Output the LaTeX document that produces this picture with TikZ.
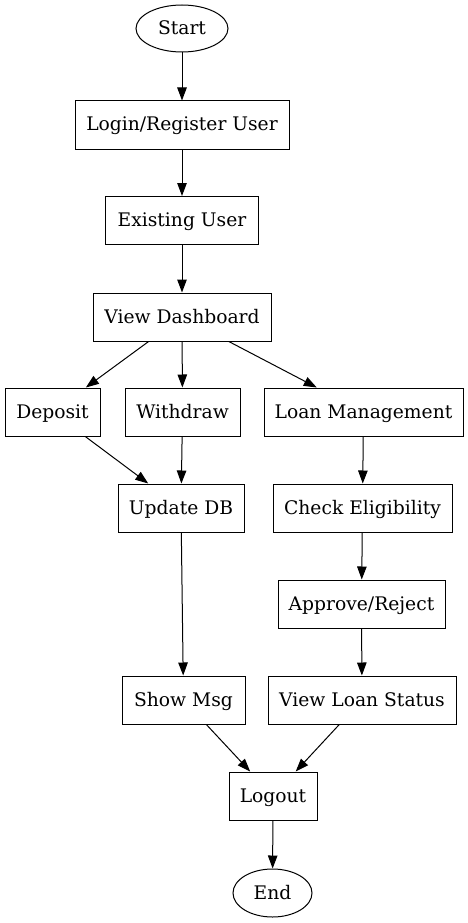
\documentclass[tikz,border=0pt]{standalone}
\usepackage{fontspec}
\setmainfont{DejaVu Serif}
\usetikzlibrary{arrows.meta,shapes.geometric}
\begin{document}
\begin{tikzpicture}[x=1pt,y=-1pt,
  every node/.style={font=\fontsize{18.7}{22}\selectfont, inner sep=0pt, text height=14.5pt, text depth=2.5pt},
  box/.style={draw, line width=1pt, rectangle, minimum height=48pt},
  oval/.style={draw, line width=1pt, ellipse},
  edge/.style={draw, line width=1pt, -{Triangle[length=13pt,width=9.5pt]}}]
\useasboundingbox (0,0) rectangle (468,923);
\node[oval, minimum width=92pt, minimum height=47pt] (start) at (182,28.5) {Start};
\node[box, minimum width=214pt] (login) at (182,125) {Login/Register User};
\node[box, minimum width=153pt] (exist) at (182,220.5) {Existing User};
\node[box, minimum width=178pt] (dash) at (182,317) {View Dashboard};
\node[box, minimum width=95pt] (dep) at (52.5,412) {Deposit};
\node[box, minimum width=115pt] (wd) at (182.5,412) {Withdraw};
\node[box, minimum width=199pt] (loan) at (363.5,412) {Loan Management};
\node[box, minimum width=126pt] (upd) at (181,508) {Update DB};
\node[box, minimum width=179pt] (chk) at (362.5,508) {Check Eligibility};
\node[box, minimum width=167pt] (appr) at (361.5,604) {Approve/Reject};
\node[box, minimum width=123pt] (msg) at (183.5,700) {Show Msg};
\node[box, minimum width=188pt] (vls) at (362,700) {View Loan Status};
\node[box, minimum width=88pt] (logout) at (273,796) {Logout};
\node[oval, minimum width=79pt, minimum height=48pt] (end) at (272.5,893) {End};
\path[edge] (start) -- (login);
\path[edge] (login) -- (exist);
\path[edge] (exist) -- (dash);
\path[edge] (dash) -- (dep);
\path[edge] (dash) -- (wd);
\path[edge] (dash) -- (loan);
\path[edge] (dep) -- (upd);
\path[edge] (wd) -- (upd);
\path[edge] (loan) -- (chk);
\path[edge] (chk) -- (appr);
\path[edge] (appr) -- (vls);
\path[edge] (upd) -- (msg);
\path[edge] (msg) -- (logout);
\path[edge] (vls) -- (logout);
\path[edge] (logout) -- (end);
\end{tikzpicture}
\end{document}
